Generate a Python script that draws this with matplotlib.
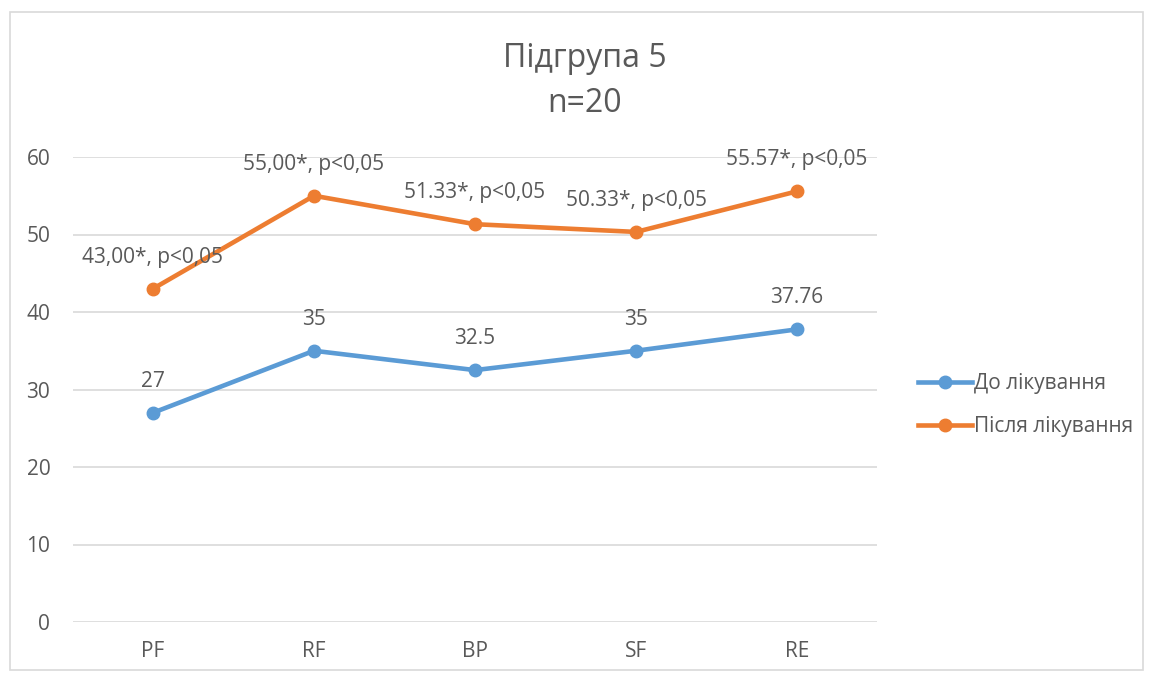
import matplotlib.pyplot as plt
from matplotlib.patches import Rectangle

categories = ["PF", "RF", "BP", "SF", "RE"]
before = [27, 35, 32.5, 35, 37.76]
after = [43.00, 55.00, 51.33, 50.33, 55.57]
before_labels = ["27", "35", "32.5", "35", "37.76"]
after_labels = ["43,00*, p<0,05", "55,00*, p<0,05", "51.33*, p<0,05",
                "50.33*, p<0,05", "55.57*, p<0,05"]

plt.rcParams['font.family'] = ['Open Sans', 'DejaVu Sans']
grey = "#595959"
blue = "#5B9BD5"
orange = "#ED7D31"

fig = plt.figure(figsize=(11.5, 6.77), dpi=100)
fig.patches.append(Rectangle((10 / 1150, 7 / 677), 1133 / 1150, 658 / 677,
                             transform=fig.transFigure, fill=False,
                             edgecolor="#D9D9D9", linewidth=1.2))

ax = fig.add_axes([72.5 / 1150, 1 - 622 / 677, 805 / 1150, 465 / 677])
x = list(range(len(categories)))

ax.plot(x, before, color=blue, linewidth=3.3, marker="o", markersize=9,
        label="До лікування", zorder=3)
ax.plot(x, after, color=orange, linewidth=3.3, marker="o", markersize=9,
        label="Після лікування", zorder=3)

for xi, v, t in zip(x, before, before_labels):
    ax.annotate(t, (xi, v), xytext=(0, 21), textcoords="offset pixels",
                ha="center", va="bottom", fontsize=15, color=grey)
for xi, v, t in zip(x, after, after_labels):
    ax.annotate(t, (xi, v), xytext=(0, 21), textcoords="offset pixels",
                ha="center", va="bottom", fontsize=15, color=grey)

ax.set_xlim(-0.5, 4.5)
ax.set_ylim(0, 60)
ax.set_yticks(range(0, 61, 10))
ax.set_xticks(x)
ax.set_xticklabels(categories)
ax.grid(axis="y", color="#D9D9D9", linewidth=1.2)
ax.set_axisbelow(True)
for s in ax.spines.values():
    s.set_visible(False)
ax.tick_params(length=0, labelsize=15, colors=grey)
ax.tick_params(axis="x", pad=14)
ax.tick_params(axis="y", pad=16)

fig.text(585 / 1150, 1 - 81 / 677, "Підгрупа 5\nn=20", ha="center",
         va="center", fontsize=23, color=grey, linespacing=1.48)

fig.legend(loc="center left", bbox_to_anchor=(899 / 1150, 1 - 405 / 677),
           frameon=False, fontsize=15, labelcolor=grey, handlelength=2.6,
           handletextpad=0.1, labelspacing=1.05)

fig.savefig("out.png", dpi=100)
